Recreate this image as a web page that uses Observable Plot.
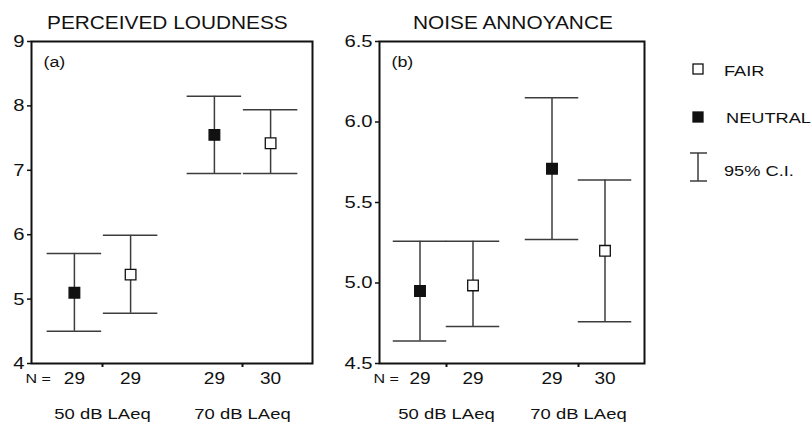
<!DOCTYPE html>
<html><head><meta charset="utf-8">
<script src="https://cdn.jsdelivr.net/npm/d3@7"></script>
<script src="https://cdn.jsdelivr.net/npm/@observablehq/plot@0.6"></script>
<style>
body{margin:0;background:#fff;font-family:"Liberation Sans",Arial,sans-serif;}
#wrap{position:relative;width:811px;height:424px;overflow:hidden;background:#fff}
.abs{position:absolute;white-space:nowrap;color:#111;line-height:1;transform:scaleX(1.19);transform-origin:left center}
.panel{position:absolute;top:0}
</style></head><body><div id="wrap"></div>
<script>
// ---- data ----
const groups = ["50 dB LAeq", "70 dB LAeq"];
const seriesNames = ["NEUTRAL", "FAIR"];
const nNeutral = [29, 29];
const nFair = [29, 30];

const loudNeutralMean = [5.10, 7.55];
const loudNeutralLow  = [4.50, 6.95];
const loudNeutralHigh = [5.71, 8.15];
const loudFairMean = [5.38, 7.42];
const loudFairLow  = [4.78, 6.95];
const loudFairHigh = [5.99, 7.94];

const annNeutralMean = [4.95, 5.71];
const annNeutralLow  = [4.64, 5.27];
const annNeutralHigh = [5.26, 6.15];
const annFairMean = [4.985, 5.20];
const annFairLow  = [4.73, 4.76];
const annFairHigh = [5.26, 5.64];

const loudTicks = [4, 5, 6, 7, 8, 9];
const annTicks = [4.5, 5.0, 5.5, 6.0, 6.5];
const titles = ["PERCEIVED LOUDNESS", "NOISE ANNOYANCE"];
const panelLabels = ["(a)", "(b)"];
const legendLabels = ["FAIR", "NEUTRAL", "95% C.I."];

function rows(mean, low, high, n, series) {
  return groups.map((g, i) => ({group: g, series, mean: mean[i], low: low[i], high: high[i], n: n[i]}));
}

const FONT = "Liberation Sans, Arial, sans-serif";
const STRETCH = 1.19;

function panel({neutral, fair, yDomain, ticks, fmt, label, left, width, marginLeft, marginRight, capWidth}) {
  const marginTop = 41, marginBottom = 61, height = 424;
  const bw = (width - marginLeft - marginRight) / groups.length;
  const off = 0.2 * bw;
  const inset = (bw - capWidth) / 2;
  const gray = "#3c3c3c";
  const marks = [];
  for (const [data, dx, fill] of [[neutral, -off, "#111"], [fair, off, "#fff"]]) {
    marks.push(
      Plot.ruleX(data, {x: "group", y1: "low", y2: "high", dx, stroke: gray, strokeWidth: 1.5}),
      Plot.tickY(data, {x: "group", y: "low", dx, insetLeft: inset, insetRight: inset, stroke: gray, strokeWidth: 1.5}),
      Plot.tickY(data, {x: "group", y: "high", dx, insetLeft: inset, insetRight: inset, stroke: gray, strokeWidth: 1.5}),
      Plot.dot(data, {x: "group", y: "mean", dx, symbol: "square", r: 6, fill, stroke: "#111", strokeWidth: 1.3}),
      Plot.text(data, {x: "group", text: "n", dx, frameAnchor: "bottom", dy: 15, fontSize: 16, lineAnchor: "middle", fill: "#111"})
    );
  }
  const plot = Plot.plot({
    width, height, marginLeft, marginRight, marginTop, marginBottom,
    style: {fontFamily: FONT, fontSize: "16px", color: "#111", background: "transparent", overflow: "visible"},
    x: {type: "band", domain: groups, padding: 0, axis: null},
    y: {domain: yDomain, axis: null},
    marks: [
      Plot.axisY({ticks, tickSize: 4, tickPadding: 3, tickFormat: fmt, fontSize: 17, strokeWidth: 1.5, fill: "#111", label: null}),
      Plot.axisX({tickSize: 4, tickFormat: () => "", strokeWidth: 2, label: null}),
      Plot.axisX({tickSize: 0, tickPadding: 44, fontSize: 15.5, fill: "#111", label: null}),
      ...marks,
      Plot.frame({stroke: "#111", strokeWidth: 2}),
      Plot.text([label], {frameAnchor: "top-left", dx: 12, dy: 21, text: d => d, fontSize: 15, lineAnchor: "middle", textAnchor: "start", fill: "#111"}),
      Plot.text(["N ="], {frameAnchor: "bottom-left", dx: -6, dy: 15, text: d => d, fontSize: 13.5, lineAnchor: "middle", textAnchor: "start", fill: "#111"})
    ]
  });
  const div = document.createElement("div");
  div.className = "panel";
  div.style.left = left + "px";
  div.appendChild(plot);
  return div;
}

// widen glyphs horizontally like the reference, keeping each text's anchor point fixed
function stretchTexts(root) {
  root.querySelectorAll("text").forEach(t => {
    const x = +(t.getAttribute("x") || 0);
    const tr = t.getAttribute("transform") || "";
    t.setAttribute("transform", `${tr} translate(${x},0) scale(${STRETCH},1) translate(${-x},0)`);
  });
}

const wrap = document.getElementById("wrap");

const pA = panel({
  neutral: rows(loudNeutralMean, loudNeutralLow, loudNeutralHigh, nNeutral, seriesNames[0]),
  fair: rows(loudFairMean, loudFairLow, loudFairHigh, nFair, seriesNames[1]),
  yDomain: [4, 9], ticks: loudTicks, fmt: d3.format("d"), label: panelLabels[0],
  left: 0, width: 330, marginLeft: 31, marginRight: 18, capWidth: 55
});
const pB = panel({
  neutral: rows(annNeutralMean, annNeutralLow, annNeutralHigh, nNeutral, seriesNames[0]),
  fair: rows(annFairMean, annFairLow, annFairHigh, nFair, seriesNames[1]),
  yDomain: [4.5, 6.5], ticks: annTicks, fmt: d3.format(".1f"), label: panelLabels[1],
  left: 330, width: 324, marginLeft: 49, marginRight: 10, capWidth: 54
});
wrap.appendChild(pA); wrap.appendChild(pB);
stretchTexts(pA); stretchTexts(pB);

function addText(txt, css) {
  const d = document.createElement("div");
  d.className = "abs";
  d.textContent = txt;
  Object.assign(d.style, css);
  wrap.appendChild(d);
  return d;
}
addText(titles[0], {left: "47px", top: "14.5px", fontSize: "17.5px"});
addText(titles[1], {left: "413px", top: "14.5px", fontSize: "17.5px"});

// legend
const lg = document.createElementNS("http://www.w3.org/2000/svg", "svg");
lg.setAttribute("width", 30); lg.setAttribute("height", 140);
lg.style.position = "absolute"; lg.style.left = "683px"; lg.style.top = "55px";
lg.innerHTML = `
  <rect x="10" y="9" width="10" height="10" fill="#fff" stroke="#111" stroke-width="1.3"/>
  <rect x="10" y="57" width="10" height="10" fill="#111" stroke="#111" stroke-width="1.3"/>
  <line x1="15" x2="15" y1="98" y2="126" stroke="#3c3c3c" stroke-width="1.5"/>
  <line x1="7" x2="24" y1="98" y2="98" stroke="#3c3c3c" stroke-width="1.5"/>
  <line x1="7" x2="24" y1="126" y2="126" stroke="#3c3c3c" stroke-width="1.5"/>`;
wrap.appendChild(lg);
addText(legendLabels[0], {left: "724px", top: "62.5px", fontSize: "15.3px"});
addText(legendLabels[1], {left: "726px", top: "109.5px", fontSize: "15.3px"});
addText(legendLabels[2], {left: "724px", top: "162.5px", fontSize: "15.3px"});
</script></body></html>
